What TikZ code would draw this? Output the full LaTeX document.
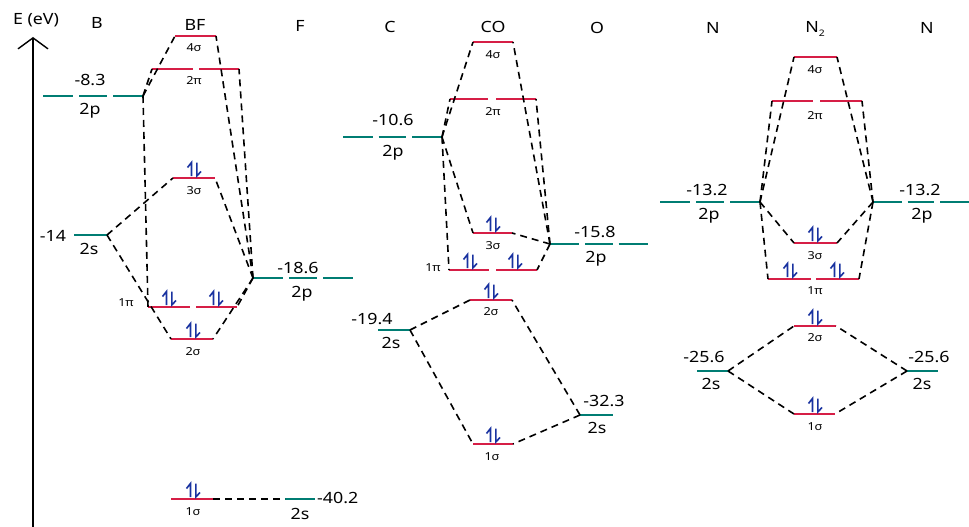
\documentclass[tikz,border=0pt]{standalone}
\usepackage{fontspec}
\setmainfont{Noto Sans}[FakeStretch=1.15]
\usetikzlibrary{arrows.meta,calc}
\definecolor{molred}{RGB}{214,30,70}
\definecolor{atteal}{RGB}{0,125,115}
\definecolor{eblue}{RGB}{25,50,160}
\tikzset{
  molevel/.style={draw=molred,line width=2pt},
  atlevel/.style={draw=atteal,line width=2pt},
  corr/.style={dash pattern=on 7pt off 5pt,line width=1.6pt},
  big/.style={font=\fontsize{15.5}{15.5}\selectfont,inner sep=0pt},
  small/.style={font=\fontsize{11}{11}\selectfont,inner sep=0pt},
  elec/.style={draw=eblue,line width=1.6pt},
  epair/.pic={
    \draw[elec] (-2.5,-2) -- (-2.5,-15.5) -- (-6.5,-10.5);
    \draw[elec] (2.8,-15.5) -- (2.8,-2) -- (7,-6.5);
  }
}
% molecular orbital level: name, x-left, x-right, y
\newcommand\molev[4]{%
  \coordinate (#1-l) at (#2,#4); \coordinate (#1-r) at (#3,#4);
  \draw[molevel] (#1-l) -- (#1-r);}
% degenerate pi level drawn as two pieces: name, x1, x2, x3, x4, y
\newcommand\molevpi[6]{%
  \coordinate (#1-l) at (#2,#6); \coordinate (#1-r) at (#5,#6);
  \draw[molevel] (#1-l) -- (#3,#6) (#4,#6) -- (#1-r);}
% atomic 2p level (three pieces): name, x-left, x-right, y
\newcommand\atlevp[4]{%
  \coordinate (#1-l) at (#2,#4); \coordinate (#1-r) at (#3,#4);
  \draw[atlevel] (#1-l) -- ($(#1-l)!0.3!(#1-r)$)
    ($(#1-l)!0.36!(#1-r)$) -- ($(#1-l)!0.64!(#1-r)$)
    ($(#1-l)!0.7!(#1-r)$) -- (#1-r);}
% atomic 2s level: name, x-left, x-right, y
\newcommand\atlevs[4]{%
  \coordinate (#1-l) at (#2,#4); \coordinate (#1-r) at (#3,#4);
  \draw[atlevel] (#1-l) -- (#1-r);}
\begin{document}
\begin{tikzpicture}[x=1pt,y=-1pt]
\useasboundingbox (0,0) rectangle (969,527);
\fill[white] (0,0) rectangle (969,527);

% energy axis
\coordinate (axbot) at (33,527);
\coordinate (axtop) at (33,37);
\draw[line width=1.4pt,-{Straight Barb[length=11pt,width=30pt,line width=1.4pt]}] (axbot) -- (axtop);
\node[big] (elab) at (36,20) {E (eV)};

% column headings
\node[big] (hB)  at (97,23)  {B};
\node[big] (hBF) at (195,25) {BF};
\node[big] (hF)  at (300,26) {F};
\node[big] (hC)  at (390,27) {C};
\node[big] (hCO) at (493,27) {CO};
\node[big] (hO)  at (597,28) {O};
\node[big] (hN1) at (713,28) {N};
\node[big] (hN2) at (815,29) {N\raisebox{-3.5pt}{\fontsize{9}{9}\selectfont 2}};
\node[big] (hN3) at (927,28) {N};

% ---------------- BF ----------------
\atlevp{b2p}{43}{143}{96}
\node[big] (b2pe) at (90,80) {-8.3};
\node[big] (b2pn) at (90,111) {2p};
\atlevs{b2s}{74}{107}{235}
\node[big] (b2se) at (53,236) {-14};
\node[big] (b2sn) at (89,249) {2s};

\molev{bf4s}{175}{216}{36}
\node[small] (bf4sn) at (194,48) {4σ};
\molevpi{bf2pi}{152}{193}{199}{239}{69}
\node[small] (bf2pin) at (194,81) {2π};
\molev{bf3s}{173}{215}{178}
\pic at (194,178) {epair};
\node[small] (bf3sn) at (194,191) {3σ};
\molevpi{bf1pi}{148}{190}{196}{237}{307}
\pic at (169,307) {epair};
\pic at (216,307) {epair};
\node[small] (bf1pin) at (126,303) {1π};
\molev{bf2s}{171}{213}{339}
\pic at (193,339) {epair};
\node[small] (bf2sn) at (193,352) {2σ};
\molev{bf1s}{171}{213}{499}
\pic at (193,499) {epair};
\node[small] (bf1sn) at (193,512) {1σ};

\atlevp{f2p}{253}{353}{278}
\node[big] (f2pe) at (298,268) {-18.6};
\node[big] (f2pn) at (302,294) {2p};
\atlevs{f2s}{285}{315}{499}
\node[big,anchor=west] (f2se) at (317,498) {-40.2};
\node[big] (f2sn) at (300,514) {2s};

\draw[corr] (b2p-r) -- (bf4s-l);
\draw[corr] (b2p-r) -- (bf2pi-l);
\draw[corr] (b2p-r) -- (bf1pi-l);
\draw[corr] (b2s-r) -- (bf3s-l);
\draw[corr] (b2s-r) -- (bf2s-l);
\draw[corr] (f2p-l) -- (bf4s-r);
\draw[corr] (f2p-l) -- (bf2pi-r);
\draw[corr] (f2p-l) -- (bf3s-r);
\draw[corr] (f2p-l) -- (bf1pi-r);
\draw[corr] (f2p-l) -- (bf2s-r);
\draw[corr] (bf1s-r) -- (f2s-l);

% ---------------- CO ----------------
\atlevp{c2p}{343}{442}{137}
\node[big] (c2pe) at (393,120) {-10.6};
\node[big] (c2pn) at (393,153) {2p};
\atlevs{c2s}{378}{410}{330}
\node[big] (c2se) at (372,319) {-19.4};
\node[big] (c2sn) at (391,343) {2s};

\molev{co4s}{473}{513}{42}
\node[small] (co4sn) at (493,55) {4σ};
\molevpi{co2pi}{450}{488}{496}{536}{99}
\node[small] (co2pin) at (493,112) {2π};
\molev{co3s}{473}{512}{233}
\pic at (493,233) {epair};
\node[small] (co3sn) at (493,246) {3σ};
\molevpi{co1pi}{449}{489}{496}{537}{270}
\pic at (470,270) {epair};
\pic at (515,270) {epair};
\node[small] (co1pin) at (433,268) {1π};
\molev{co2s}{470}{512}{300}
\pic at (491,300) {epair};
\node[small] (co2sn) at (491,312) {2σ};
\molev{co1s}{473}{513}{444}
\pic at (493,444) {epair};
\node[small] (co1sn) at (492,457) {1σ};

\atlevp{o2p}{550}{648}{244}
\node[big] (o2pe) at (595,232) {-15.8};
\node[big] (o2pn) at (596,259) {2p};
\atlevs{o2s}{580}{613}{415}
\node[big] (o2se) at (604,401) {-32.3};
\node[big] (o2sn) at (597,428) {2s};

\draw[corr] (c2p-r) -- (co4s-l);
\draw[corr] (c2p-r) -- (co2pi-l);
\draw[corr] (c2p-r) -- (co3s-l);
\draw[corr] (c2p-r) -- (co1pi-l);
\draw[corr] (o2p-l) -- (co4s-r);
\draw[corr] (o2p-l) -- (co2pi-r);
\draw[corr] (o2p-l) -- (co3s-r);
\draw[corr] (o2p-l) -- (co1pi-r);
\draw[corr] (c2s-r) -- (co2s-l);
\draw[corr] (c2s-r) -- (co1s-l);
\draw[corr] (o2s-l) -- (co2s-r);
\draw[corr] (o2s-l) -- (co1s-r);

% ---------------- N2 ----------------
\atlevp{nl2p}{660}{760}{202}
\node[big] (nl2pe) at (707,190) {-13.2};
\node[big] (nl2pn) at (709,216) {2p};
\atlevp{nr2p}{873}{969}{202}
\node[big] (nr2pe) at (920,190) {-13.2};
\node[big] (nr2pn) at (922,216) {2p};
\atlevs{nl2s}{697}{728}{371}
\node[big] (nl2se) at (704,357) {-25.6};
\node[big] (nl2sn) at (711,384) {2s};
\atlevs{nr2s}{907}{938}{371}
\node[big] (nr2se) at (929,357) {-25.6};
\node[big] (nr2sn) at (922,384) {2s};

\molev{n4s}{794}{837}{57}
\node[small] (n4sn) at (815,70) {4σ};
\molevpi{n2pi}{772}{813}{820}{862}{101}
\node[small] (n2pin) at (815,116) {2π};
\molev{n3s}{794}{837}{243}
\pic at (815,243) {epair};
\node[small] (n3sn) at (815,256) {3σ};
\molevpi{n1pi}{768}{811}{816}{859}{279}
\pic at (790,279) {epair};
\pic at (837,279) {epair};
\node[small] (n1pin) at (815,291) {1π};
\molev{n2s}{794}{836}{326}
\pic at (815,326) {epair};
\node[small] (n2sn) at (815,338) {2σ};
\molev{n1s}{794}{835}{414}
\pic at (815,414) {epair};
\node[small] (n1sn) at (815,427) {1σ};

\draw[corr] (nl2p-r) -- (n4s-l);
\draw[corr] (nl2p-r) -- (n2pi-l);
\draw[corr] (nl2p-r) -- (n3s-l);
\draw[corr] (nl2p-r) -- (n1pi-l);
\draw[corr] (nr2p-l) -- (n4s-r);
\draw[corr] (nr2p-l) -- (n2pi-r);
\draw[corr] (nr2p-l) -- (n3s-r);
\draw[corr] (nr2p-l) -- (n1pi-r);
\draw[corr] (nl2s-r) -- (n2s-l);
\draw[corr] (nl2s-r) -- (n1s-l);
\draw[corr] (nr2s-l) -- (n2s-r);
\draw[corr] (nr2s-l) -- (n1s-r);
\end{tikzpicture}
\end{document}
